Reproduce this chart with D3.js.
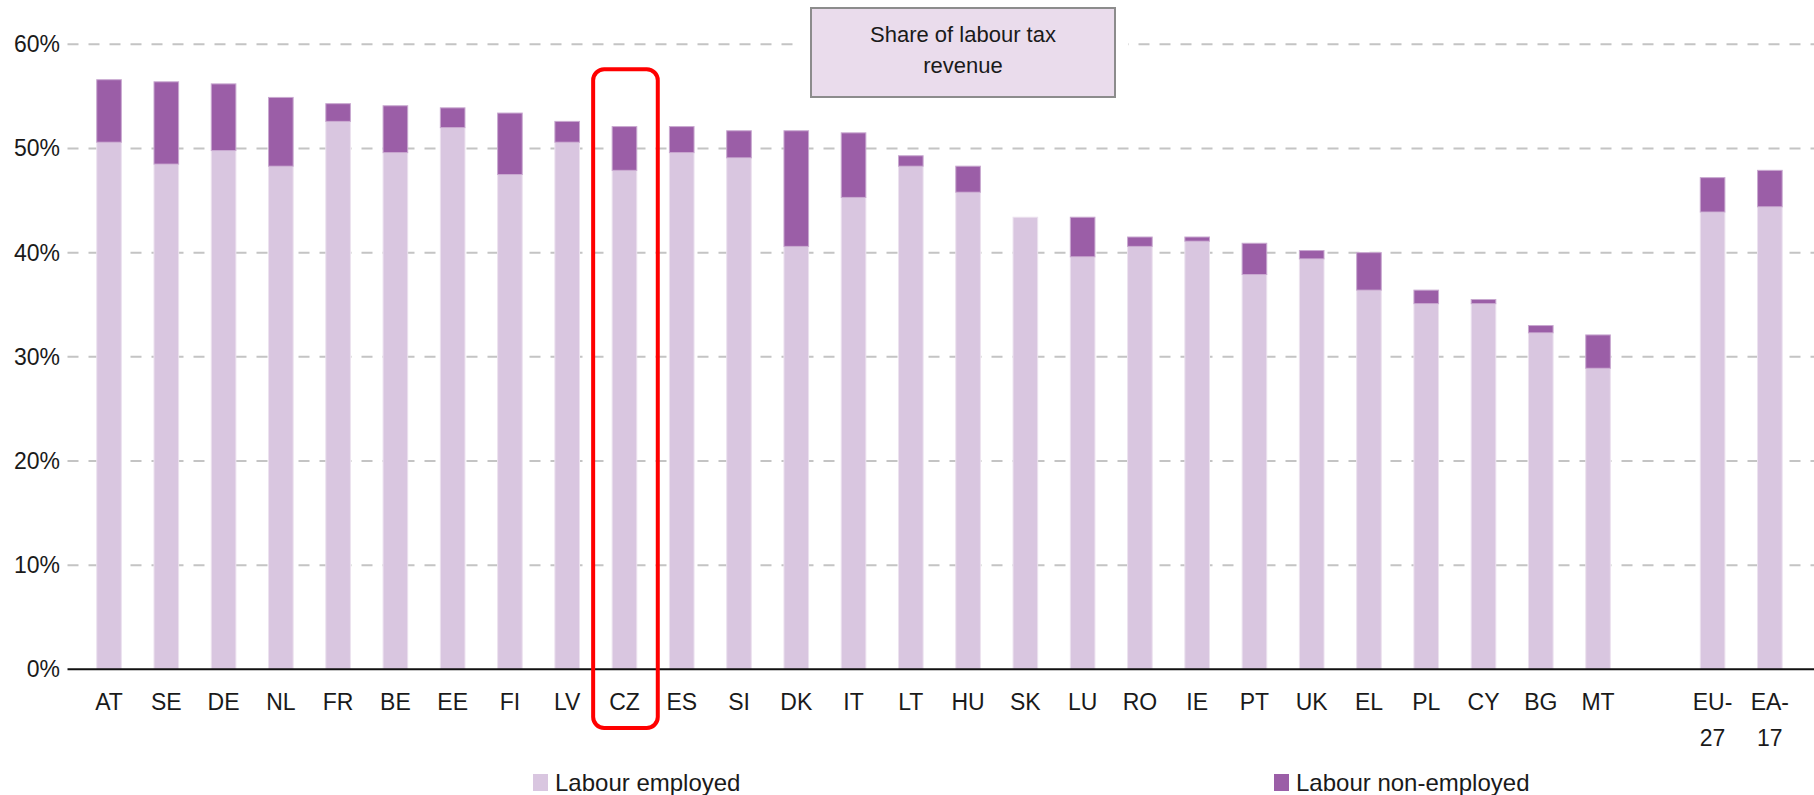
<!DOCTYPE html>
<html>
<head>
<meta charset="utf-8">
<script src="https://cdn.jsdelivr.net/npm/d3@7"></script>
<style>
  html, body { margin: 0; padding: 0; background: #fff; }
  svg { display: block; font-family: "Liberation Sans", Arial, sans-serif; }
</style>
</head>
<body>
<div id="chart"></div>
<script>
const countries = ['AT','SE','DE','NL','FR','BE','EE','FI','LV','CZ','ES','SI','DK','IT','LT','HU','SK','LU','RO','IE','PT','UK','EL','PL','CY','BG','MT','EU-27','EA-17']
const employed    = [50.6,48.5,49.8,48.3,52.6,49.6,52.0,47.5,50.6,47.9,49.6,49.1,40.6,45.3,48.3,45.8,43.4,39.6,40.6,41.1,37.9,39.4,36.4,35.1,35.1,32.3,28.9,43.9,44.4]
const nonEmployed = [6.0,7.9,6.4,6.6,1.7,4.5,1.9,5.9,2.0,4.2,2.5,2.6,11.1,6.2,1.0,2.5,0,3.8,0.9,0.4,3.0,0.8,3.6,1.3,0.4,0.7,3.2,3.3,3.5]
const yTicks = [0, 10, 20, 30, 40, 50, 60]
const seriesNames = ['Labour employed', 'Labour non-employed']
const colors = ['#d9c6e0', '#9b5ea7']
const highlight = 'CZ'

const W = 1814, H = 795
const svg = d3.select('#chart').append('svg').attr('width', W).attr('height', H)

// blank slot between MT and the EU aggregates
const slots = countries.slice(0, 27).concat(['_gap'], countries.slice(27))
const x = d3.scaleBand().domain(slots).range([80.4, 1798.5]).paddingInner(0.57).paddingOuter(0.285)
const y = d3.scaleLinear().domain([0, 60]).range([669.3, 44.3])

// gridlines
svg.append('g').selectAll('line').data(yTicks.filter(d => d > 0)).join('line')
  .attr('x1', 67.5).attr('x2', W)
  .attr('y1', d => y(d)).attr('y2', d => y(d))
  .attr('stroke', '#c4c4c4').attr('stroke-width', 2).attr('stroke-dasharray', '11 10')

// y axis labels
svg.append('g').attr('transform', 'translate(67,0)')
  .call(d3.axisLeft(y).tickValues(yTicks).tickFormat(d => d + '%').tickSize(0).tickPadding(7))
  .call(g => g.select('.domain').remove())
  .call(g => g.selectAll('text').attr('font-size', 23).attr('fill', '#1a1a1a')
    .attr('font-family', '"Liberation Sans", Arial, sans-serif'))

// stacked bars
const rows = countries.map((c, i) => ({ c, emp: employed[i], non: nonEmployed[i] }))
const bars = svg.append('g')
bars.selectAll('rect.emp').data(rows).join('rect').attr('class', 'emp')
  .attr('x', d => x(d.c)).attr('width', x.bandwidth())
  .attr('y', d => y(d.emp)).attr('height', d => y(0) - y(d.emp))
  .attr('fill', colors[0]).attr('stroke', '#ece2ef').attr('stroke-width', 1)
bars.selectAll('rect.non').data(rows.filter(d => d.non > 0)).join('rect').attr('class', 'non')
  .attr('x', d => x(d.c)).attr('width', x.bandwidth())
  .attr('y', d => y(d.emp + d.non)).attr('height', d => y(d.emp) - y(d.emp + d.non))
  .attr('fill', colors[1]).attr('stroke', '#c9a9d0').attr('stroke-width', 1)

// x axis
svg.append('line').attr('x1', 67.5).attr('x2', W).attr('y1', y(0)).attr('y2', y(0))
  .attr('stroke', '#111').attr('stroke-width', 2)

const xLabels = svg.append('g').attr('transform', `translate(0,${y(0)})`)
  .call(d3.axisBottom(x).tickValues(countries).tickSize(0).tickPadding(0).tickFormat(''))
  .call(g => g.select('.domain').remove())
xLabels.selectAll('.tick').append('text')
  .attr('fill', '#1a1a1a').attr('font-size', 23).attr('text-anchor', 'middle')
  .attr('font-family', '"Liberation Sans", Arial, sans-serif')
  .each(function (d) {
    const parts = d.includes('-') ? [d.split('-')[0] + '-', d.split('-')[1]] : [d]
    d3.select(this).selectAll('tspan').data(parts).join('tspan')
      .attr('x', 0).attr('y', (p, i) => 41 + i * 36).text(p => p)
  })

// highlight box around CZ
svg.append('rect')
  .attr('x', x(highlight) - 19).attr('width', x.bandwidth() + 40)
  .attr('y', y(57.6)).attr('height', 728 - y(57.6))
  .attr('rx', 11).attr('fill', 'none').attr('stroke', '#ff0000').attr('stroke-width', 4)

// title box
svg.append('rect').attr('x', 800).attr('y', 0).attr('width', 328).attr('height', 105).attr('fill', '#fff')
svg.append('rect').attr('x', 811).attr('y', 8).attr('width', 304).attr('height', 89)
  .attr('fill', '#eadcec').attr('stroke', '#8c8c8c').attr('stroke-width', 2)
svg.append('text').attr('x', 963).attr('text-anchor', 'middle').attr('font-size', 22).attr('fill', '#1a1a1a')
  .selectAll('tspan').data(['Share of labour tax', 'revenue']).join('tspan')
  .attr('x', 963).attr('y', (d, i) => 42 + i * 31).text(d => d)

// legend
const legendX = [533, 1274]
const lg = svg.append('g').selectAll('g').data(seriesNames).join('g')
  .attr('transform', (d, i) => `translate(${legendX[i]},774)`)
lg.append('rect').attr('width', 15).attr('height', 17).attr('fill', (d, i) => colors[i])
lg.append('text').attr('x', 22).attr('y', 17).attr('font-size', 24).attr('fill', '#1a1a1a').text(d => d)
</script>
</body>
</html>
